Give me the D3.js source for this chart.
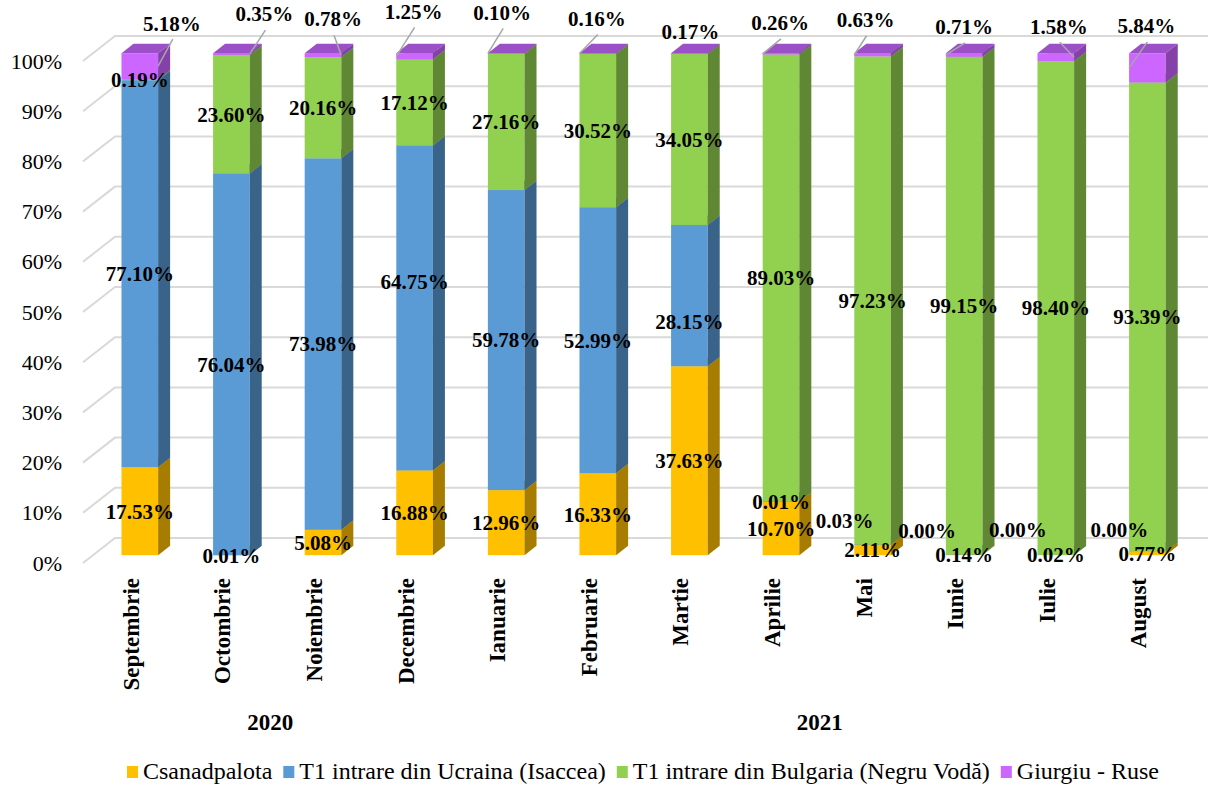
<!DOCTYPE html>
<html>
<head>
<meta charset="utf-8">
<script src="https://cdn.jsdelivr.net/npm/d3@7"></script>
<style>
  html, body { margin: 0; padding: 0; background: #fff; }
  svg { display: block; }
  text { font-family: "Liberation Serif", "Times New Roman", serif; }
</style>
</head>
<body>
<svg id="chart" width="1208" height="785"></svg>
<script>
// ---------------- DATA ----------------
const categories = ["Septembrie", "Octombrie", "Noiembrie", "Decembrie", "Ianuarie", "Februarie",
                    "Martie", "Aprilie", "Mai", "Iunie", "Iulie", "August"];
const seriesNames = ["Csanadpalota", "T1 intrare din Ucraina (Isaccea)",
                     "T1 intrare din Bulgaria (Negru Vodă)", "Giurgiu - Ruse"];
const csanadpalota = [17.53, 0.01, 5.08, 16.88, 12.96, 16.33, 37.63, 10.70, 2.11, 0.14, 0.02, 0.77];
const ucraina      = [77.10, 76.04, 73.98, 64.75, 59.78, 52.99, 28.15, 0.01, 0.03, 0.00, 0.00, 0.00];
const bulgaria     = [0.19, 23.60, 20.16, 17.12, 27.16, 30.52, 34.05, 89.03, 97.23, 99.15, 98.40, 93.39];
const giurgiu      = [5.18, 0.35, 0.78, 1.25, 0.10, 0.16, 0.17, 0.26, 0.63, 0.71, 1.58, 5.84];
const yearLabels = ["2020", "2021"];
const yearFirstCat = ["Septembrie", "Ianuarie"];
const yearLastCat  = ["Decembrie", "August"];
const yTicks = [0, 10, 20, 30, 40, 50, 60, 70, 80, 90, 100];

// ---------------- STYLE / LAYOUT ----------------
const frontColors = ["#FFC000", "#5B9BD5", "#92D050", "#CC66FF"];
const sideColors  = ["#A67D00", "#3A6389", "#5F8734", "#8441A8"];
const topColors   = ["#D9A300", "#4D84B5", "#7CB044", "#9C50C8"];
const DX = 32, DY = 25;       // full depth offset of the 3D floor
const Z0 = 0.3125, Z1 = 0.6875; // bar depth range
// manual data-label displacements (series index, category index) -> [dx, dy] in px
const labelOffsets = {
  "3-0": [32, -43], "3-1": [33, -40], "3-2": [10, -36], "3-3": [-1, -45],
  "3-4": [-4, -41], "3-5": [-1, -35], "3-6": [1, -22], "3-7": [-1, -31],
  "3-8": [-7, -35], "3-9": [0, -28], "3-10": [3, -31], "3-11": [-1, -42],
  "1-3": [0, -26], "1-6": [0, 26],
  "1-8": [-28, -24], "1-9": [-37, -24], "1-10": [-38, -25], "1-11": [-28, -22]
};

const svg = d3.select("#chart");
const series = [csanadpalota, ucraina, bulgaria, giurgiu];

const x = d3.scaleBand().domain(categories).range([84, 1183.2]).paddingInner(0.6).paddingOuter(0.3);
const y = d3.scaleLinear().domain([0, 100]).range([563, 61]);
const bw = x.bandwidth();

// gridlines (side wall diagonal + back wall)
svg.append("g").selectAll("path").data(yTicks).join("path")
  .attr("d", v => `M${x.range()[0] - 1},${y(v)} L${x.range()[0] - 1 + DX},${y(v) - DY} L1215,${y(v) - DY}`)
  .attr("fill", "none").attr("stroke", "#D9D9D9").attr("stroke-width", 2);

// y axis labels
const yAxis = d3.axisLeft(y).tickValues(yTicks).tickFormat(d => d + "%").tickSize(0).tickPadding(3);
const yg = svg.append("g").attr("transform", "translate(65,0)").call(yAxis);
yg.select(".domain").remove();
yg.selectAll("text").attr("font-size", 22).attr("fill", "#000")
  .style("font-family", '"Liberation Serif","Times New Roman",serif');

// stacked segments
const stack = d3.stack().keys(d3.range(series.length)).value((d, k) => series[k][d])(d3.range(categories.length));

const segs = [];
stack.forEach((layer, s) => {
  layer.forEach((d, i) => segs.push({ s, i, lo: d[0], hi: d[1], v: series[s][i] }));
});

const ddx = (Z1 - Z0) * DX, ddy = (Z1 - Z0) * DY;
const barsG = svg.append("g");
categories.forEach((c, i) => {
  const g = barsG.append("g");
  segs.filter(d => d.i === i).sort((a, b) => a.s - b.s).forEach(d => {
    const x0 = x(c) + Z0 * DX, x1 = x0 + bw;
    const yLo = y(d.lo) - Z0 * DY, yHi = y(d.hi) - Z0 * DY;
    g.append("polygon")
      .attr("points", [[x0, yHi], [x0 + ddx, yHi - ddy], [x1 + ddx, yHi - ddy], [x1, yHi]].join(" "))
      .attr("fill", topColors[d.s]);
    g.append("rect").attr("x", x0).attr("y", yHi).attr("width", bw).attr("height", Math.max(0, yLo - yHi))
      .attr("fill", frontColors[d.s]);
    g.append("polygon")
      .attr("points", [[x1, yLo], [x1 + ddx, yLo - ddy], [x1 + ddx, yHi - ddy], [x1, yHi]].join(" "))
      .attr("fill", sideColors[d.s]);
  });
});

// data labels + leader lines
const labelsG = svg.append("g");
const leadersG = svg.insert("g", () => labelsG.node());
segs.forEach(d => {
  const cx = x(categories[d.i]) + Z0 * DX + bw / 2;
  const cy = y((d.lo + d.hi) / 2) - Z0 * DY;
  const off = labelOffsets[d.s + "-" + d.i] || [0, 0];
  const lx = cx + off[0], ly = cy + off[1];
  labelsG.append("text").attr("x", lx).attr("y", ly).attr("dy", "0.35em")
    .attr("text-anchor", "middle").attr("font-size", 21).attr("font-weight", "bold").attr("fill", "#000")
    .text(d.v.toFixed(2) + "%");
  if (d.s === series.length - 1 && Math.hypot(off[0], off[1]) > 25) {
    const ex = lx > cx ? cx + bw / 2 : cx - bw / 2;
    leadersG.append("line").attr("x1", lx + 1).attr("y1", ly + 16).attr("x2", ex).attr("y2", cy)
      .attr("stroke", "#A6A6A6").attr("stroke-width", 1.5);
  }
});

// category labels (rotated)
svg.append("g").selectAll("text").data(categories).join("text")
  .attr("transform", c => `translate(${x(c) + bw / 2 + 1},578) rotate(-90)`)
  .attr("dy", "0.35em").attr("text-anchor", "end")
  .attr("font-size", 23).attr("font-weight", "bold").attr("fill", "#000")
  .text(c => c);

// year labels
svg.append("g").selectAll("text").data(yearLabels).join("text")
  .attr("x", (d, k) => (x(yearFirstCat[k]) + x(yearLastCat[k])) / 2 + bw / 2 + 3)
  .attr("y", 730).attr("text-anchor", "middle")
  .attr("font-size", 23).attr("font-weight", "bold").attr("fill", "#000")
  .text(d => d);

// legend
const lg = svg.append("g");
let lx = 127;
seriesNames.forEach((name, k) => {
  lg.append("rect").attr("x", lx).attr("y", 766).attr("width", 11).attr("height", 12).attr("fill", frontColors[k]);
  const t = lg.append("text").attr("x", lx + 16).attr("y", 779).attr("font-size", 24).attr("fill", "#000").text(name);
  lx = lx + 16 + t.node().getComputedTextLength() + 11;
});
</script>
</body>
</html>
